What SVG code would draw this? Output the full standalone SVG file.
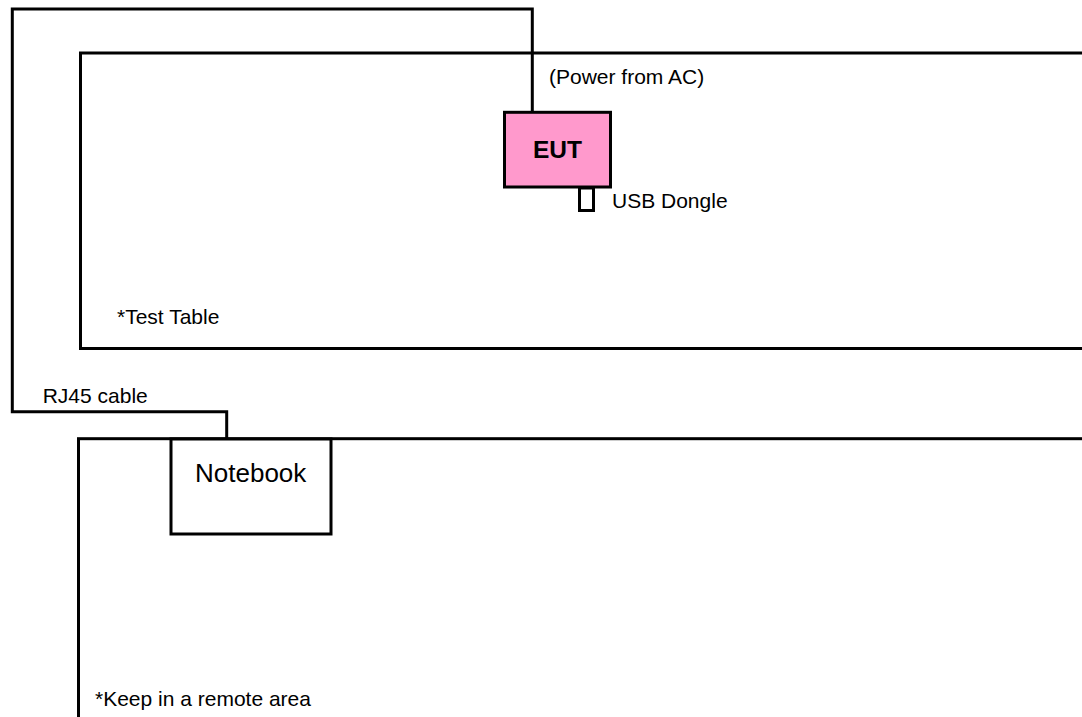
<svg xmlns="http://www.w3.org/2000/svg" width="1082" height="717" viewBox="0 0 1082 717">
<style>
.box{fill:#ffffff;stroke:#000000;stroke-width:3}
.line{fill:none;stroke:#000000;stroke-width:3;stroke-linejoin:miter}
.t{font-family:"Liberation Sans",Arial,sans-serif;font-size:21px;fill:#000000}
</style>
<rect width="1082" height="717" fill="#ffffff"/>
<g id="test-table">
<rect class="box" x="80.5" y="53" width="1100" height="295.5"/>
<text class="t" x="117" y="324">*Test Table</text>
</g>
<g id="remote-area">
<rect class="box" x="78.5" y="438.7" width="1100" height="400"/>
<text class="t" x="95" y="705.5">*Keep in a remote area</text>
</g>
<g id="connectors">
<path class="line" d="M532.3,112.3 V9 H12.3 V411.7 H226.7 V439"/>
<text class="t" x="42.7" y="402.7">RJ45 cable</text>
<text class="t" x="549" y="84">(Power from AC)</text>
</g>
<g id="eut">
<rect x="504.5" y="112.3" width="106" height="74.7" fill="#ff99cc" stroke="#000000" stroke-width="3"/>
<text x="557.5" y="158" text-anchor="middle" font-family="'Liberation Sans',Arial,sans-serif" font-size="24.5" font-weight="bold" fill="#000000">EUT</text>
</g>
<g id="usb-dongle">
<rect class="box" x="579.5" y="188" width="14" height="22.5"/>
<text class="t" x="612" y="208">USB Dongle</text>
</g>
<g id="notebook">
<rect class="box" x="171" y="439" width="160" height="95"/>
<text x="195" y="482" font-family="'Liberation Sans',Arial,sans-serif" font-size="26" fill="#000000">Notebook</text>
</g>
</svg>
